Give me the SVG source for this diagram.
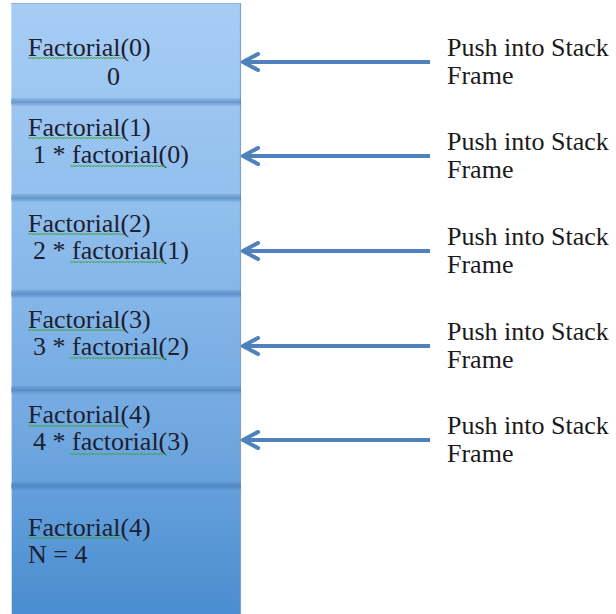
<svg xmlns="http://www.w3.org/2000/svg" width="616" height="614" viewBox="0 0 616 614">
<defs>
<linearGradient id="stackGrad" x1="0" y1="0" x2="0" y2="614" gradientUnits="userSpaceOnUse">
<stop offset="0" stop-color="#a7cdf5"/>
<stop offset="0.35" stop-color="#90beed"/>
<stop offset="0.7" stop-color="#71a8e0"/>
<stop offset="1" stop-color="#4a8dd0"/>
</linearGradient>
<linearGradient id="divGrad" x1="0" y1="0" x2="0" y2="1">
<stop offset="0" stop-color="#3e73b0" stop-opacity="0.15"/>
<stop offset="0.5" stop-color="#3e73b0" stop-opacity="0.55"/>
<stop offset="1" stop-color="#3e73b0" stop-opacity="0.1"/>
</linearGradient>
<pattern id="squig" width="6" height="4" patternUnits="userSpaceOnUse">
<path d="M0 3 L1.5 1 L3 3 L4.5 1 L6 3" fill="none" stroke="#3fa33f" stroke-width="0.9"/>
</pattern>
<marker id="head" viewBox="0 0 20 20" refX="17" refY="10" markerWidth="20" markerHeight="20" markerUnits="userSpaceOnUse" orient="auto">
<path d="M2 2 L17 10 L2 18" fill="none" stroke="#4f81bd" stroke-width="4" stroke-linecap="round" stroke-linejoin="round"/>
</marker>
</defs>
<style>
.t{font-family:"Liberation Serif","Times New Roman",serif;font-size:26px;fill:#1c2030;}
.r{font-family:"Liberation Serif","Times New Roman",serif;font-size:26px;fill:#1a1a1a;}
.div{fill:url(#divGrad);}
.sq{fill:url(#squig);}
.arrow{stroke:#4f81bd;stroke-width:4;fill:none;marker-end:url(#head);}
</style>
<rect x="0" y="0" width="616" height="614" fill="#ffffff"/>
<g id="stack">
<rect x="11" y="3" width="230" height="611" fill="url(#stackGrad)"/>
<line x1="11.5" y1="3" x2="11.5" y2="614" stroke="#c9def5" stroke-width="1"/>
<line x1="240.5" y1="3" x2="240.5" y2="614" stroke="#8a9fb8" stroke-width="1.2"/>
<line x1="11" y1="3.5" x2="241" y2="3.5" stroke="#8fb2dc" stroke-width="1"/>
</g>
<g id="frame0">
<rect class="div" x="11" y="98" width="230" height="8"/>
<text class="t" x="28" y="56">Factorial(0)</text>
<text class="t" x="107" y="85">0</text>
<rect class="sq" x="28" y="57" width="96" height="4"/>
</g>
<g id="frame1">
<rect class="div" x="11" y="194" width="230" height="8"/>
<text class="t" x="28" y="136">Factorial(1)</text>
<text class="t" x="33" y="163">1 * factorial(0)</text>
<rect class="sq" x="28" y="137" width="96" height="4"/>
<rect class="sq" x="70" y="164" width="96" height="4"/>
</g>
<g id="frame2">
<rect class="div" x="11" y="290" width="230" height="8"/>
<text class="t" x="28" y="232">Factorial(2)</text>
<text class="t" x="33" y="259">2 * factorial(1)</text>
<rect class="sq" x="28" y="233" width="96" height="4"/>
<rect class="sq" x="70" y="260" width="96" height="4"/>
</g>
<g id="frame3">
<rect class="div" x="11" y="386" width="230" height="8"/>
<text class="t" x="28" y="328">Factorial(3)</text>
<text class="t" x="33" y="355">3 * factorial(2)</text>
<rect class="sq" x="28" y="329" width="96" height="4"/>
<rect class="sq" x="70" y="356" width="96" height="4"/>
</g>
<g id="frame4">
<rect class="div" x="11" y="482" width="230" height="8"/>
<text class="t" x="28" y="423">Factorial(4)</text>
<text class="t" x="33" y="450">4 * factorial(3)</text>
<rect class="sq" x="28" y="424" width="96" height="4"/>
<rect class="sq" x="70" y="451" width="96" height="4"/>
</g>
<g id="frame5">
<text class="t" x="28" y="536">Factorial(4)</text>
<text class="t" x="28" y="563">N = 4</text>
<rect class="sq" x="28" y="537" width="96" height="4"/>
</g>
<g id="connectors">
<line class="arrow" x1="430" y1="62" x2="243" y2="62"/>
<line class="arrow" x1="430" y1="156" x2="243" y2="156"/>
<line class="arrow" x1="430" y1="251" x2="243" y2="251"/>
<line class="arrow" x1="430" y1="346" x2="243" y2="346"/>
<line class="arrow" x1="430" y1="440" x2="243" y2="440"/>
</g>
<g id="labels">
<text class="r" x="447" y="56">Push into Stack</text>
<text class="r" x="447" y="84">Frame</text>
<text class="r" x="447" y="150">Push into Stack</text>
<text class="r" x="447" y="178">Frame</text>
<text class="r" x="447" y="245">Push into Stack</text>
<text class="r" x="447" y="273">Frame</text>
<text class="r" x="447" y="340">Push into Stack</text>
<text class="r" x="447" y="368">Frame</text>
<text class="r" x="447" y="434">Push into Stack</text>
<text class="r" x="447" y="462">Frame</text>
</g>
</svg>
